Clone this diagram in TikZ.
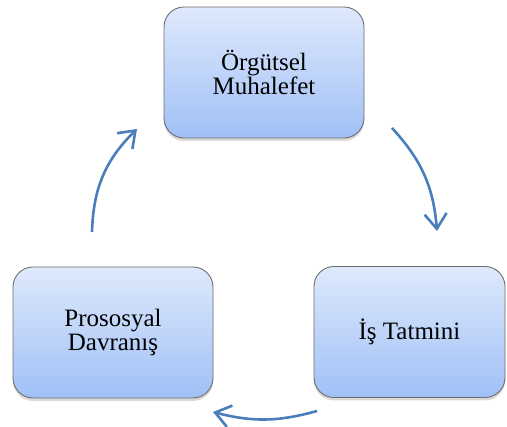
\documentclass[tikz,border=0pt]{standalone}
\usepackage{fontspec}
\setmainfont{Liberation Serif}
\newfontfamily\boxfont{Liberation Serif}
\usetikzlibrary{shadows,arrows.meta}
\definecolor{boxtop}{RGB}{222,233,252}
\definecolor{boxbot}{RGB}{160,192,246}
\definecolor{boxline}{RGB}{110,110,110}
\definecolor{arrowblue}{RGB}{74,126,187}
\tikzset{
  cyclebox/.style={rounded corners=20pt, draw=boxline, line width=0.9pt,
    top color=boxtop, bottom color=boxbot,
    drop shadow={opacity=0.3, shadow xshift=0pt, shadow yshift=-3pt},
    minimum height=131pt, align=center, inner sep=0pt,
    font=\boxfont\fontsize{25}{24}\selectfont},
  cyclearrow/.style={draw=arrowblue, line width=2.6pt,
    -{Straight Barb[length=15pt,width=22pt,line width=2.6pt]}}
}
\begin{document}
\begin{tikzpicture}[x=1pt,y=1pt]
\useasboundingbox (0,0) rectangle (507,427);
\node[cyclebox, minimum width=200pt] (om) at (264,354.5) {Örgütsel\\Muhalefet};
\node[cyclebox, minimum width=200pt] (pd) at (113,94.5) {Prososyal\\Davranış};
\node[cyclebox, minimum width=191pt] (it) at (409.5,95) {İş Tatmini};
\coordinate (a1s) at (92,195);
\coordinate (a1e) at (137,298);
\coordinate (a2s) at (392,299);
\coordinate (a2e) at (437,196);
\coordinate (a3s) at (317,16);
\coordinate (a3e) at (213,15);
\draw[cyclearrow] (a1s) to[bend left=22] (a1e);
\draw[cyclearrow] (a2s) to[bend left=19] (a2e);
\draw[cyclearrow] (a3s) to[bend left=15] (a3e);
\end{tikzpicture}
\end{document}
